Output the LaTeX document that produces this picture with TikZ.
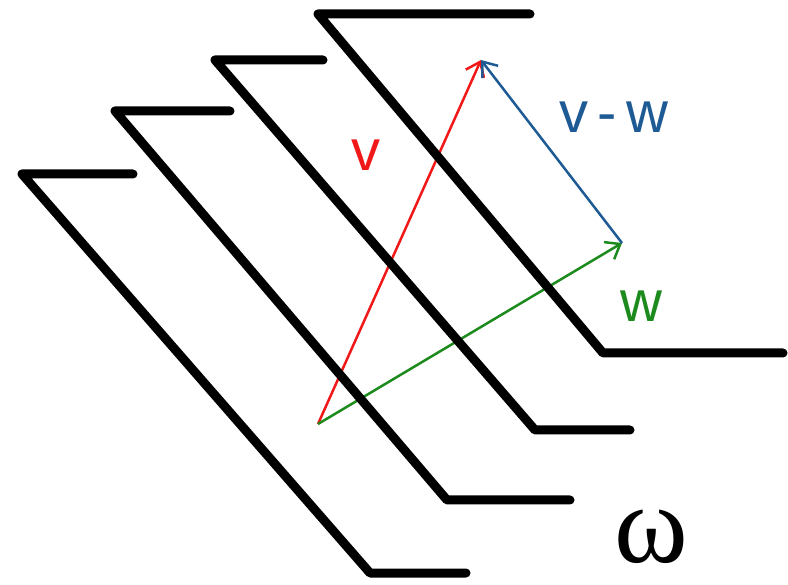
\documentclass[tikz,border=0pt]{standalone}
\usepackage{fontspec}
\setmainfont{Liberation Sans}
\newfontfamily\omegafont{Liberation Serif}
\usetikzlibrary{arrows.meta}
\definecolor{vred}{HTML}{F01818}
\definecolor{wgreen}{HTML}{1C8A1C}
\definecolor{vwblue}{HTML}{1E5A94}

\begin{document}
\begin{tikzpicture}[x=1pt, y=-1pt,
    plane/.style={line width=9pt, line cap=round, line join=round},
    vec/.style={line width=2.5pt, -{Straight Barb[length=13pt, width=20pt, line width=2.5pt]}},
    lbl/.style={inner sep=0pt, font=\fontsize{58}{58}\selectfont}]
  \useasboundingbox (0,0) rectangle (788,585);

  % vectors
  \coordinate (o) at (318,424);
  \coordinate (vtip) at (481,60);
  \coordinate (wtip) at (622,243);
  \draw[vec, vred] (o) -- (vtip);
  \draw[vec, wgreen] (o) -- (wtip);
  \draw[vec, vwblue] (wtip) -- (vtip);

  % the planes of omega
  \foreach \ex/\ty/\cx/\bx/\by/\fx in {133/174/22/370/573/466,
      230/111/115/447/500/570, 323/60/215/535/430/630, 530/14/318/603/353/783}
    \draw[plane] (\ex,\ty) -- (\cx,\ty) -- (\bx,\by) -- (\fx,\by);

  \node[lbl, text=vred] (vlabel) at (366,155) {v};
  \node[lbl, text=vwblue] (vwlabel) at (614,117) {v\,-\,w};
  \node[lbl, text=wgreen] (wlabel) at (641,306) {w};
  \node[inner sep=0pt, anchor=base, font=\omegafont\fontsize{112}{112}\selectfont]
    (omega) at (651,562) {ω};
\end{tikzpicture}
\end{document}
